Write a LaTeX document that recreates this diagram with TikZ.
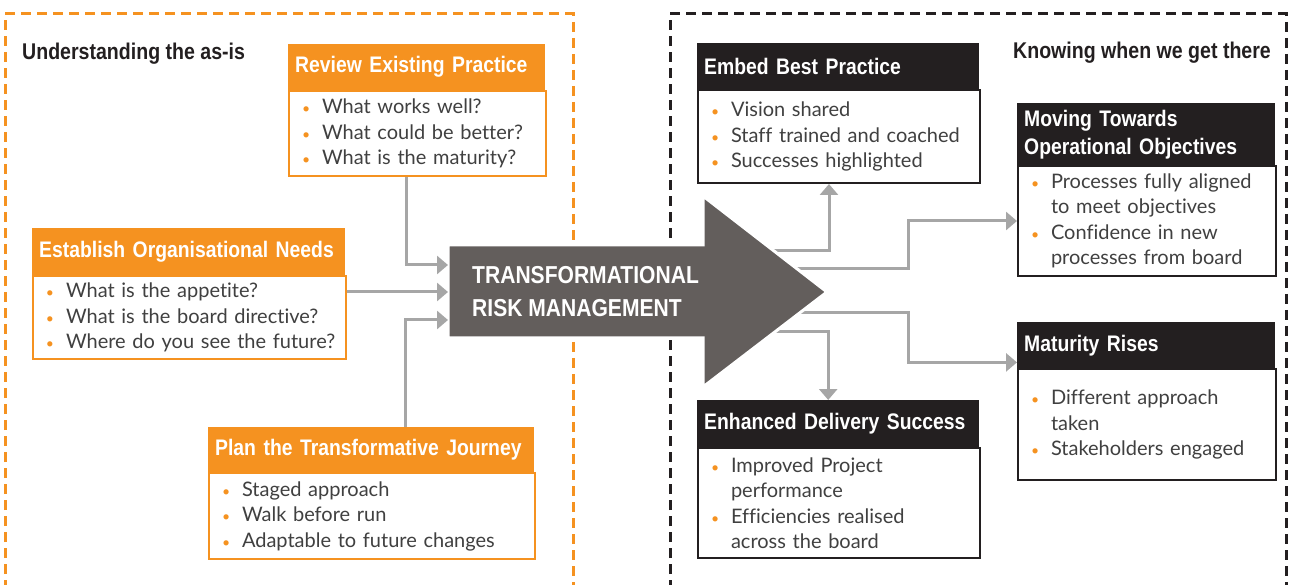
\documentclass[tikz,border=0pt]{standalone}
\usepackage{fontspec}
\setmainfont{Lato}[Ligatures=NoCommon]
\newfontfamily\hdfont[FakeStretch=0.86]{Liberation Sans}
\usetikzlibrary{arrows.meta}
\hyphenpenalty=10000

\definecolor{orng}{RGB}{245,146,32}
\definecolor{dark}{RGB}{35,31,32}
\definecolor{arwgrey}{RGB}{99,94,92}
\definecolor{conngrey}{RGB}{166,166,166}
\definecolor{bodytxt}{RGB}{64,64,64}

\newcommand\itm{\hspace*{9pt}\makebox[20pt][l]{\textcolor{orng}{\fontsize{14}{14}\selectfont\textbullet}}}
\newcommand\cnt{\hspace*{29pt}}

\tikzset{
  head/.style={anchor=north west, inner xsep=7pt, inner ysep=0pt, align=left,
    text=white, font=\hdfont\bfseries\fontsize{22.5}{28}\selectfont},
  ohead/.style={head, fill=orng, text width=#1},
  khead/.style={head, fill=dark, text width=#1},
  body/.style={anchor=north west, inner xsep=4pt, inner ysep=0pt, align=left,
    fill=white, line width=2pt, text=bodytxt, font=\fontsize{20}{25.5}\selectfont},
  obody/.style={body, draw=orng, text width=#1},
  kbody/.style={body, draw=dark, text width=#1},
  ttl/.style={anchor=base west, inner sep=0pt, text=dark,
    font=\hdfont\bfseries\fontsize{22.75}{28}\selectfont},
  conn/.style={draw=conngrey, line width=3pt, -{Triangle[length=11pt,width=18pt]}},
  frame/.style={line width=3pt, dash pattern=on 10pt off 6pt}
}

\begin{document}
\begin{tikzpicture}[x=1pt,y=-1pt]
  \useasboundingbox (0,0) rectangle (1291,585);

  % the two dashed areas
  \draw[frame, orng] (5,590) -- (5,14) -- (573,14) -- (573,590);
  \draw[frame, dark] (670,590) -- (670,14) -- (1286,14) -- (1286,590);

  \node[ttl] (asis) at (22,60) {Understanding the as-is};
  \node[ttl] (there) at (1013,59) {Knowing when we get there};

  % left boxes
  \node[obody=249, minimum height=85] (revb) at (288,90)
    {\itm What works well?\\ \itm What could be better?\\ \itm What is the maturity?};
  \node[ohead=243, minimum height=46] (revh) at (288,44) {Review Existing Practice};

  \node[obody=305, minimum height=83] (estb) at (32,275)
    {\itm What is the appetite?\\ \itm What is the board directive?\\ \itm Where do you see the future?};
  \node[ohead=299, minimum height=47] (esth) at (32,228) {Establish Organisational Needs};

  \node[obody=318, minimum height=86] (planb) at (208,472)
    {\itm Staged approach\\ \itm Walk before run\\ \itm Adaptable to future changes};
  \node[ohead=312, minimum height=45] (planh) at (208,427) {Plan the Transformative Journey};

  % right boxes
  \node[kbody=274, minimum height=93] (embb) at (697,89)
    {\itm Vision shared\\ \itm Staff trained and coached\\ \itm Successes highlighted};
  \node[khead=268, minimum height=46] (embh) at (697,43) {Embed Best Practice};

  \node[kbody=250, minimum height=110] (movb) at (1017,165)
    {\itm Processes fully aligned\\ \cnt to meet objectives\\ \itm Confidence in new\\ \cnt processes from board};
  \node[khead=244, minimum height=62] (movh) at (1017,103) {Moving Towards\\Operational Objectives};

  \node[kbody=250, minimum height=111] (matb) at (1017,368)
    {\itm Different approach\\ \cnt taken\\ \itm Stakeholders engaged};
  \node[khead=244, minimum height=46] (math) at (1017,322) {Maturity Rises};

  \node[kbody=274, minimum height=110] (enhb) at (697,447)
    {\itm Improved Project\\ \cnt performance\\ \itm Efficiencies realised\\ \cnt across the board};
  \node[khead=268, minimum height=47] (enhh) at (697,400) {Enhanced Delivery Success};

  % outgoing connectors start under the arrow head
  \coordinate (tout1) at (760,251);
  \coordinate (tout2) at (780,269);
  \coordinate (tout3) at (780,313);
  \coordinate (tout4) at (760,332);
  \draw[conn] (tout1) -| ([xshift=-10pt]embb.south);
  \draw[conn] (tout2) -- ++(128,0) |- (movb.west);
  \draw[conn] (tout3) -- ++(128,0) |- ([yshift=6pt]math.south west);
  \draw[conn] (tout4) -| ([xshift=-10pt]enhh.north);

  % big arrow
  \filldraw[fill=arwgrey, draw=white, line width=3pt]
    (448,245) -- (703,245) -- (703,196) -- (827,292) -- (703,387) -- (703,338) -- (448,338) -- cycle;
  \node[anchor=west, align=left, inner sep=0pt, text=white,
    font=\hdfont\bfseries\fontsize{24.5}{33}\selectfont] (tfm) at (472,292)
    {TRANSFORMATIONAL\\RISK MANAGEMENT};

  % incoming connectors
  \coordinate (tin1) at (448,265);
  \coordinate (tin2) at (448,292);
  \coordinate (tin3) at (448,320);
  \draw[conn] ([xshift=-11.5pt]revb.south) |- (tin1);
  \draw[conn] (estb.east |- tin2) -- (tin2);
  \draw[conn] ([xshift=34pt]planh.north) |- (tin3);
\end{tikzpicture}
\end{document}
